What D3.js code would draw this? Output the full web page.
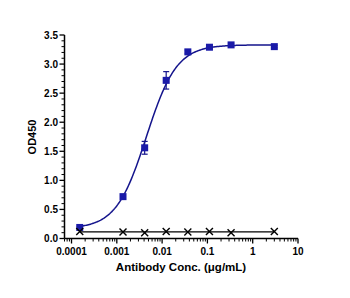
<!DOCTYPE html>
<html>
<head>
<meta charset="utf-8">
<script src="https://cdn.jsdelivr.net/npm/d3@7"></script>
<style>
  body { margin: 0; background: #fff; }
  text { font-family: "Liberation Sans", Arial, sans-serif; font-weight: bold; }
</style>
</head>
<body>
<div id="chart"></div>
<script>
// concentrations (ug/mL), 3-fold dilution
const conc_blue = [0.000152, 0.00137, 0.00412, 0.0123, 0.037, 0.111, 0.333, 3];
const od_blue = [0.19, 0.72, 1.56, 2.72, 3.21, 3.29, 3.33, 3.30];
const err_blue = [0.02, 0.03, 0.11, 0.15, 0.03, 0.02, 0.02, 0.02];
const conc_ctrl = [0.000152, 0.00137, 0.00412, 0.0123, 0.037, 0.111, 0.333, 3];
const od_ctrl = [0.12, 0.11, 0.10, 0.12, 0.11, 0.12, 0.10, 0.12];
// 4PL fit parameters
const fit_bottom = 0.17, fit_top = 3.33, fit_ec50 = 0.0045, fit_hill = 1.3;
const xTicks = [0.0001, 0.001, 0.01, 0.1, 1, 10];
const yTicks = [0, 0.5, 1.0, 1.5, 2.0, 2.5, 3.0, 3.5];

const width = 350, height = 298;
const svg = d3.select('#chart').append('svg')
  .attr('width', width)
  .attr('height', height);

const x = d3.scaleLog().domain([0.00007, 10]).range([64.5, 298]);
const y = d3.scaleLinear().domain([0, 3.5]).range([238.5, 35]);

const blue = '#1a1aa8';
const navy = '#14148c';

// y axis
const yAxis = svg.append('g').attr('transform', 'translate(64.5,0)');
yAxis.append('line').attr('y1', y(0)).attr('y2', y(3.5)).attr('stroke', '#000').attr('stroke-width', 1.5);
d3.range(0, 36).forEach(i => {
  const v = i / 10;
  const major = i % 5 == 0;
  yAxis.append('line')
    .attr('x1', 0).attr('x2', major ? -5 : -3)
    .attr('y1', y(v)).attr('y2', y(v))
    .attr('stroke', '#000').attr('stroke-width', major ? 1.3 : 1);
});
yTicks.forEach(v => {
  yAxis.append('text')
    .attr('x', -6.5).attr('y', y(v) + 3.7)
    .attr('text-anchor', 'end')
    .attr('font-size', '10px')
    .text(v.toFixed(1));
});

// x axis
const xAxis = svg.append('g').attr('transform', 'translate(0,' + y(0) + ')');
xAxis.append('line').attr('x1', 64.5).attr('x2', 298).attr('stroke', '#000').attr('stroke-width', 1.5);
const minor = [];
[-5, -4, -3, -2, -1, 0].forEach(p => {
  for (let k = 1; k < 10; k++) {
    const v = k * Math.pow(10, p);
    if (v >= 0.00007 && v <= 10) minor.push({v: v, major: k == 1});
  }
});
minor.push({v: 10, major: true});
minor.forEach(t => {
  xAxis.append('line')
    .attr('x1', x(t.v)).attr('x2', x(t.v))
    .attr('y1', 0).attr('y2', t.major ? 5 : 3)
    .attr('stroke', '#000').attr('stroke-width', t.major ? 1.3 : 1);
});
xTicks.forEach(v => {
  xAxis.append('text')
    .attr('x', x(v)).attr('y', 16.5)
    .attr('text-anchor', 'middle')
    .attr('font-size', '10px')
    .text(v == 0.0001 ? '0.0001' : String(v));
});

// axis titles
svg.append('text')
  .attr('x', 181).attr('y', 270.5)
  .attr('text-anchor', 'middle')
  .attr('font-size', '11.5px')
  .text('Antibody Conc. (μg/mL)');
svg.append('text')
  .attr('transform', 'translate(36,137) rotate(-90)')
  .attr('text-anchor', 'middle')
  .attr('font-size', '11px')
  .text('OD450');

// control line
const ctrlMean = d3.mean(od_ctrl);
svg.append('line')
  .attr('x1', x(conc_ctrl[0])).attr('x2', x(conc_ctrl[conc_ctrl.length - 1]))
  .attr('y1', y(ctrlMean)).attr('y2', y(ctrlMean))
  .attr('stroke', '#000').attr('stroke-width', 1.3);

// fitted curve
const fitX = d3.range(0, 201).map(i => Math.pow(10, Math.log10(conc_blue[0]) + i / 200 * (Math.log10(3) - Math.log10(conc_blue[0]))));
const fitLine = d3.line()
  .x(d => x(d))
  .y(d => y(fit_bottom + (fit_top - fit_bottom) / (1 + Math.pow(fit_ec50 / d, fit_hill))));
svg.append('path')
  .datum(fitX)
  .attr('d', fitLine)
  .attr('fill', 'none')
  .attr('stroke', navy)
  .attr('stroke-width', 1.5);

// error bars
const eb = svg.append('g').attr('stroke', navy).attr('stroke-width', 1.2);
conc_blue.forEach((c, i) => {
  const cx = x(c);
  eb.append('line').attr('x1', cx).attr('x2', cx).attr('y1', y(od_blue[i] - err_blue[i])).attr('y2', y(od_blue[i] + err_blue[i]));
  [od_blue[i] - err_blue[i], od_blue[i] + err_blue[i]].forEach(v => {
    eb.append('line').attr('x1', cx - 3).attr('x2', cx + 3).attr('y1', y(v)).attr('y2', y(v));
  });
});

// blue squares
svg.selectAll('.sq')
  .data(conc_blue)
  .enter().append('rect')
  .attr('class', 'sq')
  .attr('x', d => x(d) - 3.5)
  .attr('y', (d, i) => y(od_blue[i]) - 3.5)
  .attr('width', 7)
  .attr('height', 7)
  .attr('fill', blue);

// control crosses
const cr = svg.append('g').attr('stroke', '#000').attr('stroke-width', 1.4);
conc_ctrl.forEach((c, i) => {
  const cx = x(c), cy = y(od_ctrl[i]);
  cr.append('line').attr('x1', cx - 3.5).attr('x2', cx + 3.5).attr('y1', cy - 3.5).attr('y2', cy + 3.5);
  cr.append('line').attr('x1', cx - 3.5).attr('x2', cx + 3.5).attr('y1', cy + 3.5).attr('y2', cy - 3.5);
});
</script>
</body>
</html>
